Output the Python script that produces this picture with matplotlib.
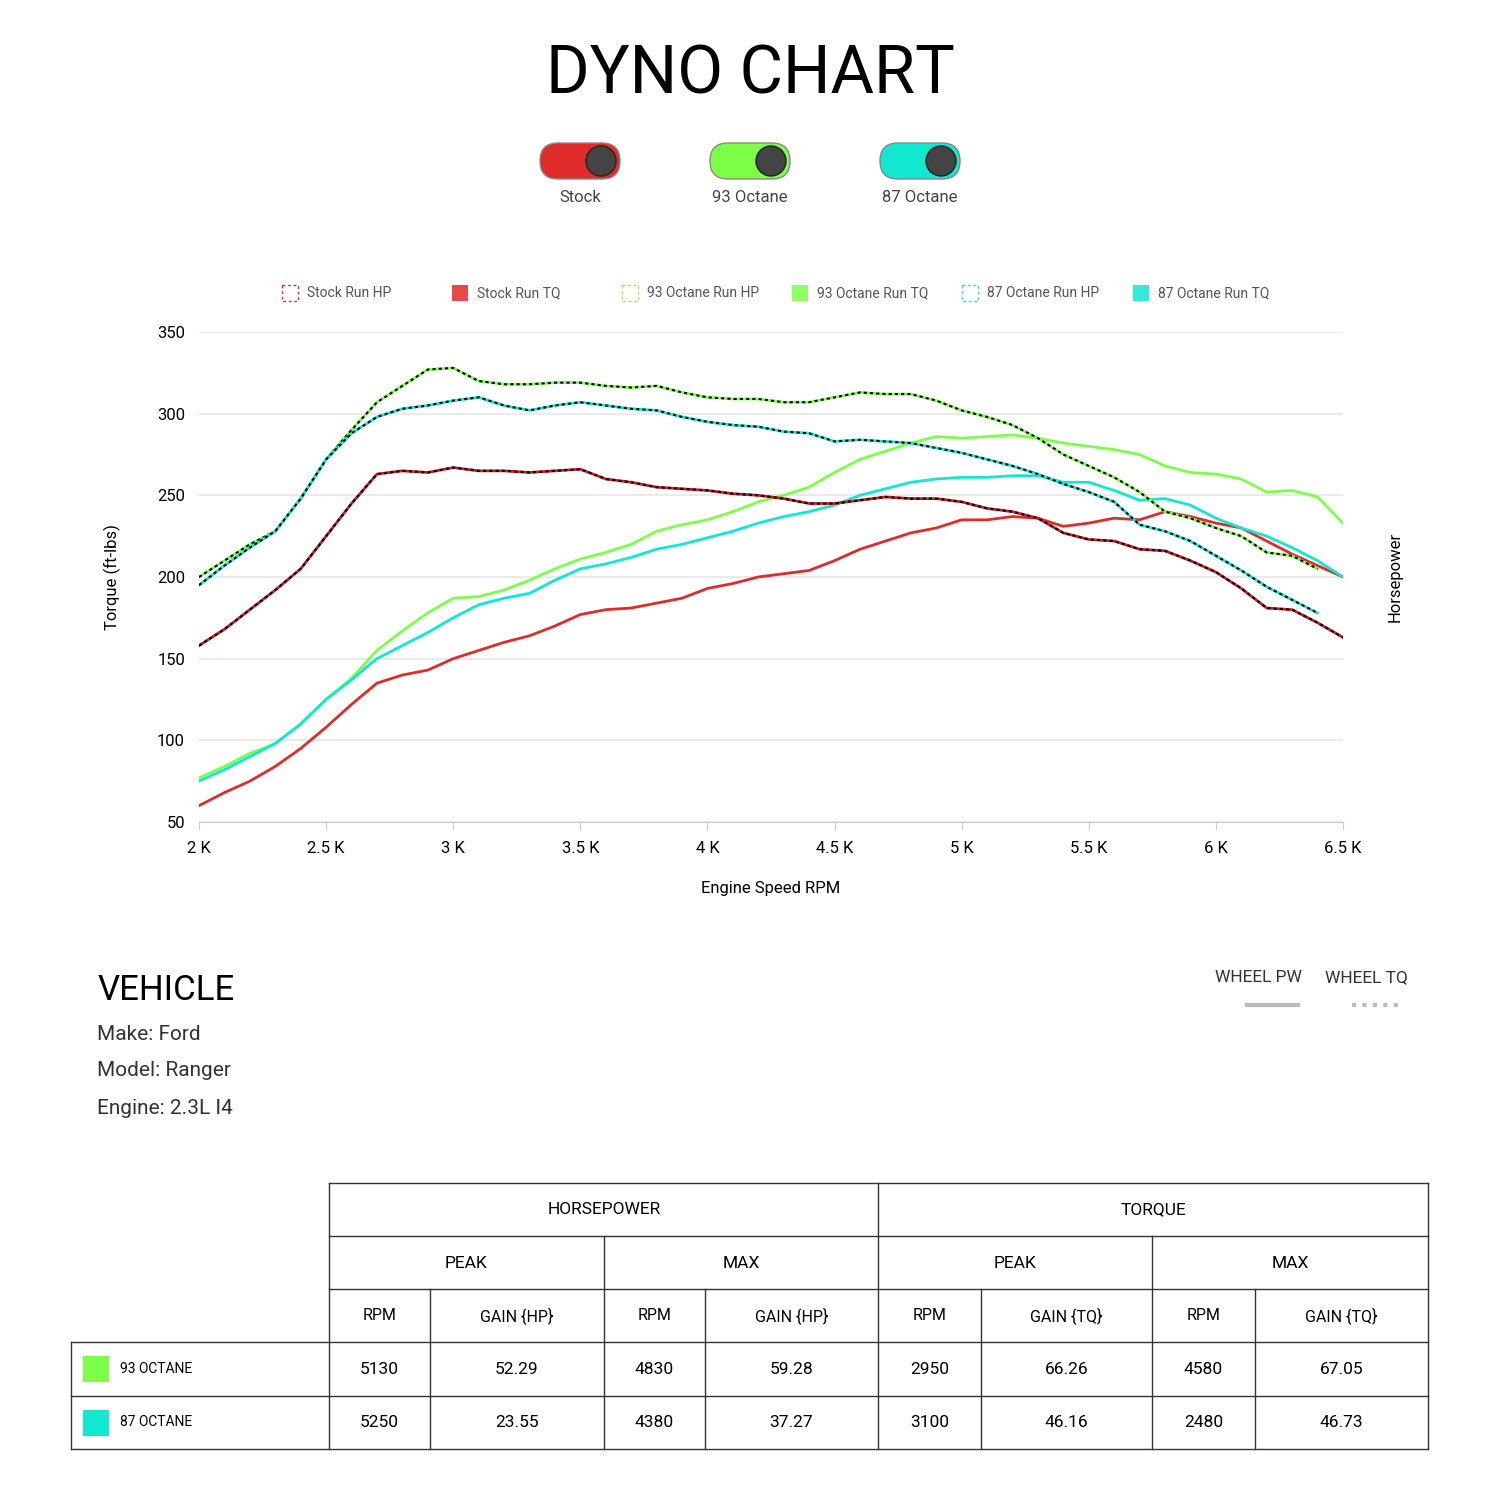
import numpy as np
import matplotlib.pyplot as plt
from matplotlib.patches import FancyBboxPatch, Rectangle, Circle

plt.rcParams['font.family'] = ['Roboto', 'DejaVu Sans']

rpm = list(range(2000, 6600, 100))

stock_hp = [158, 168, 180, 192, 205, 225, 245, 263, 265, 264, 267, 265, 265, 264, 265, 266,
            260, 258, 255, 254, 253, 251, 250, 248, 245, 245, 247, 249, 248, 248, 246, 242,
            240, 236, 227, 223, 222, 217, 216, 210, 203, 193, 181, 180, 172, 163]
stock_tq = [60, 68, 75, 84, 95, 108, 122, 135, 140, 143, 150, 155, 160, 164, 170, 177,
            180, 181, 184, 187, 193, 196, 200, 202, 204, 210, 217, 222, 227, 230, 235, 235,
            237, 236, 231, 233, 236, 235, 240, 237, 233, 230, 222, 214, 207, 200]
oct93_hp = [200, 210, 220, 228, 248, 272, 290, 307, 317, 327, 328, 320, 318, 318, 319, 319,
            317, 316, 317, 313, 310, 309, 309, 307, 307, 310, 313, 312, 312, 308, 302, 298,
            293, 285, 275, 268, 261, 252, 240, 236, 230, 225, 215, 213, 205]
oct93_tq = [77, 84, 92, 98, 110, 125, 138, 155, 167, 178, 187, 188, 192, 198, 205, 211,
            215, 220, 228, 232, 235, 240, 246, 250, 255, 264, 272, 277, 282, 286, 285, 286,
            287, 285, 282, 280, 278, 275, 268, 264, 263, 260, 252, 253, 249, 233]
oct87_hp = [195, 207, 218, 228, 248, 272, 288, 298, 303, 305, 308, 310, 305, 302, 305, 307,
            305, 303, 302, 298, 295, 293, 292, 289, 288, 283, 284, 283, 282, 279, 276, 272,
            268, 263, 257, 252, 246, 232, 228, 222, 213, 204, 194, 186, 178]
oct87_tq = [75, 82, 90, 98, 110, 125, 137, 150, 158, 166, 175, 183, 187, 190, 198, 205,
            208, 212, 217, 220, 224, 228, 233, 237, 240, 244, 250, 254, 258, 260, 261, 261,
            262, 262, 258, 258, 253, 247, 248, 244, 236, 230, 225, 218, 210, 200]

RED, GREEN, CYAN = '#e02b2b', '#7dff4a', '#12e8d0'
DRED = '#c81e24'

fig = plt.figure(figsize=(15, 15), dpi=100)
ov = fig.add_axes([0, 0, 1, 1])
ov.set_xlim(0, 1500); ov.set_ylim(1500, 0); ov.axis('off')

ax = fig.add_axes([199/1500, 1-822/1500, (1343-199)/1500, (822-332)/1500])
ax.set_xlim(2000, 6500); ax.set_ylim(50, 350)
ax.set_yticks(range(50, 351, 50))
ax.set_xticks(range(2000, 6501, 500))
ax.set_xticklabels(['2 K', '2.5 K', '3 K', '3.5 K', '4 K', '4.5 K', '5 K', '5.5 K', '6 K', '6.5 K'])
ax.grid(axis='y', color='#e6e6e6', lw=1.2)
for s in ['top', 'right', 'left']:
    ax.spines[s].set_visible(False)
ax.spines['bottom'].set_color('#cccccc')
ax.tick_params(axis='y', length=0, labelsize=12, pad=10)
ax.tick_params(axis='x', color='#cccccc', length=6, labelsize=12, pad=8)
ax.set_xlabel('Engine Speed RPM', fontsize=12, labelpad=18)
ax.set_ylabel('Torque (ft-lbs)', fontsize=12, labelpad=26)
ax2 = ax.twinx(); ax2.set_yticks([])
for s in ax2.spines.values():
    s.set_visible(False)
ax2.set_ylabel('Horsepower', fontsize=12, labelpad=32)

for tq, c in [(stock_tq, RED), (oct93_tq, GREEN), (oct87_tq, CYAN)]:
    ax.plot(rpm[:len(tq)], tq, color=c, lw=2)
for hp, c in [(stock_hp, DRED), (oct93_hp, GREEN), (oct87_hp, CYAN)]:
    ax.plot(rpm[:len(hp)], hp, color=c, lw=2)
    ax.plot(rpm[:len(hp)], hp, color='black', lw=1.5, ls=(0, (1.5, 1.5)))

# Title
ov.text(750, 75, 'DYNO CHART', fontsize=48, ha='center', va='center',
        family=['Liberation Sans Narrow', 'Roboto', 'DejaVu Sans'])

# Toggles
for cx, c, lab in [(580, RED, 'Stock'), (750, GREEN, '93 Octane'), (920, CYAN, '87 Octane')]:
    ov.add_patch(FancyBboxPatch((cx-40, 143), 80, 36, boxstyle='round,pad=0,rounding_size=18',
                                fc=c, ec='#888888', lw=1))
    ov.add_patch(Circle((cx+21, 161), 15, fc='#444444', ec='#222222', lw=1))
    ov.text(cx, 198, lab, fontsize=12, ha='center', va='center', color='#444444')

# Legend
leg = [(290, RED, 'Stock Run HP', True), (460, RED, 'Stock Run TQ', False),
       (630, GREEN, '93 Octane Run HP', True), (800, GREEN, '93 Octane Run TQ', False),
       (970, CYAN, '87 Octane Run HP', True), (1141, CYAN, '87 Octane Run TQ', False)]
for x, c, lab in [(a, b, d) for a, b, d, _ in leg]:
    pass
for x, c, lab, hollow in leg:
    if hollow:
        ov.add_patch(Rectangle((x-8, 285), 16, 16, fc='none', ec=c, lw=1, ls=(0, (2, 2))))
    else:
        ov.add_patch(Rectangle((x-8, 285), 16, 16, fc=c, ec='none', alpha=0.85))
    ov.text(x+17, 293, lab, fontsize=10, va='center', color='#555555')

# Vehicle
ov.text(97, 990, 'VEHICLE', fontsize=25, va='center',
        family=['Liberation Sans Narrow', 'Roboto', 'DejaVu Sans'])
for y, t in [(1034, 'Make: Ford'), (1071, 'Model: Ranger'), (1109, 'Engine: 2.3L I4')]:
    ov.text(97, y, t, fontsize=15, va='center', color='#333333')
ov.text(1258, 978, 'WHEEL PW', fontsize=12.5, ha='center', va='center', color='#333333',
        family=['Liberation Sans Narrow', 'Roboto'])
ov.text(1366, 978, 'WHEEL TQ', fontsize=12.5, ha='center', va='center', color='#333333',
        family=['Liberation Sans Narrow', 'Roboto'])
ov.plot([1247, 1298], [1005, 1005], color='#bbbbbb', lw=3)
ov.plot([1352, 1402], [1005, 1005], color='#bbbbbb', lw=3, ls=(0, (1, 1.5)))

# Table
cols = [71, 329, 430, 604, 705, 878, 981, 1152, 1255, 1428]
rows = [1183, 1236, 1289, 1342, 1396, 1449]
lk = dict(color='#333333', lw=1)
ov.plot([329, 1428], [1183, 1183], **lk)
for y in rows[1:]:
    x0 = 71 if y >= 1342 else 329
    ov.plot([x0, 1428], [y, y], **lk)
ov.plot([71, 71], [1342, 1449], **lk)
ov.plot([329, 329], [1183, 1449], **lk)
ov.plot([1428, 1428], [1183, 1449], **lk)
ov.plot([878, 878], [1183, 1449], **lk)
for x in [604, 1152]:
    ov.plot([x, x], [1236, 1449], **lk)
for x in [430, 705, 981, 1255]:
    ov.plot([x, x], [1289, 1449], **lk)

fs = 12.5
ov.text(604, 1210, 'HORSEPOWER', fontsize=fs, ha='center', va='center')
ov.text(1153, 1210, 'TORQUE', fontsize=fs, ha='center', va='center')
for i, t in enumerate(['PEAK', 'MAX', 'PEAK', 'MAX']):
    ov.text((cols[1+2*i] + cols[3+2*i]) / 2, 1263, t, fontsize=fs, ha='center', va='center')
sub = ['RPM', 'GAIN {HP}', 'RPM', 'GAIN {HP}', 'RPM', 'GAIN {TQ}', 'RPM', 'GAIN {TQ}']
for i, t in enumerate(sub):
    ov.text((cols[1+i] + cols[2+i]) / 2, 1316, t, fontsize=11.5, ha='center', va='center')

table_names = ['93 OCTANE', '87 OCTANE']
table_colors = [GREEN, CYAN]
table_vals = [['5130', '52.29', '4830', '59.28', '2950', '66.26', '4580', '67.05'],
              ['5250', '23.55', '4380', '37.27', '3100', '46.16', '2480', '46.73']]
for r, (nm, c, vals) in enumerate(zip(table_names, table_colors, table_vals)):
    yc = (rows[3+r] + rows[4+r]) / 2
    ov.add_patch(Rectangle((83, yc-13), 26, 26, fc=c, ec='none'))
    ov.text(120, yc, nm, fontsize=10, va='center')
    for i, v in enumerate(vals):
        ov.text((cols[1+i] + cols[2+i]) / 2, yc, v, fontsize=fs, ha='center', va='center')

fig.savefig('out.png', dpi=100)
